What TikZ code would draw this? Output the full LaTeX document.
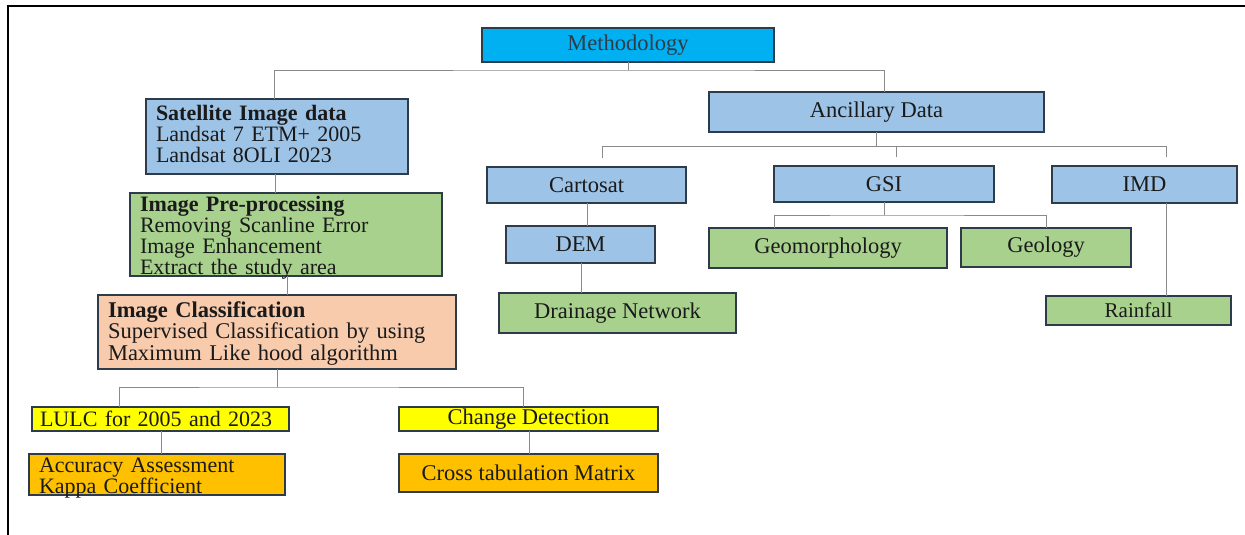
\documentclass[tikz,border=0pt]{standalone}
\usepackage{fontspec}
\setmainfont{Liberation Serif}
\begin{document}
\begin{tikzpicture}[x=1pt,y=-1pt,
  box/.style={draw=boxline, line width=1.1pt, inner xsep=10pt, inner ysep=0pt, outer sep=0pt, text=txt, anchor=north west, font=\fontsize{22.5}{20.5}\selectfont},
  multi/.style={box, align=left, font=\fontsize{22}{20.5}\selectfont},
  single/.style={box, align=center},
  conn/.style={draw=connline, line width=0.9pt},
  gapped/.style={conn, shorten >=9pt}]
\definecolor{boxline}{HTML}{2E3B4A}
\definecolor{connline}{HTML}{8A8A8A}
\definecolor{txt}{HTML}{1A1A1A}
\definecolor{cyanb}{HTML}{00B0F0}
\definecolor{blueb}{HTML}{9DC3E6}
\definecolor{greenb}{HTML}{A9D18E}
\definecolor{peachb}{HTML}{F8CBAD}
\definecolor{yellowb}{HTML}{FFFF00}
\definecolor{orangeb}{HTML}{FFC000}
\useasboundingbox (0,0) rectangle (1245,535);
\fill[white] (0,0) rectangle (1245,535);
% frame
\draw[line width=2pt, black] (8,535) -- (8,6) -- (1245,6);
% nodes
\node[single, fill=cyanb, minimum width=292, minimum height=34, text=boxline] (meth) at (482,28) {Methodology};
\node[multi, fill=blueb, minimum width=262, minimum height=75, text width=242, text height=22, text depth=53] (sat) at (146,99) {\textbf{Satellite Image data}\\Landsat 7 ETM+ 2005\\Landsat 8OLI 2023};
\node[multi, fill=greenb, minimum width=312, minimum height=83, text width=292, text height=18, text depth=65, font=\fontsize{22}{20}\selectfont] (pre) at (130,193) {\textbf{Image Pre-processing}\\Removing Scanline Error\\Image Enhancement\\Extract the study area};
\node[multi, fill=peachb, minimum width=358, minimum height=74, text width=338, text height=22, text depth=52, font=\fontsize{22.5}{21.5}\selectfont] (cls) at (98,295) {\textbf{Image Classification}\\Supervised Classification by using\\Maximum Like hood algorithm};
\node[multi, fill=yellowb, minimum width=257, minimum height=24, inner xsep=8pt, text width=241] (lulc) at (32,407) {LULC for 2005 and 2023};
\node[multi, fill=orangeb, minimum width=256, minimum height=41, text width=236, text height=18, text depth=23, font=\fontsize{22}{20}\selectfont] (acc) at (29,454) {Accuracy Assessment\\Kappa Coefficient};
\node[single, fill=yellowb, minimum width=259, minimum height=24] (chg) at (399,407) {Change Detection};
\node[single, fill=orangeb, minimum width=259, minimum height=38] (cross) at (399,454) {Cross tabulation Matrix};
\node[single, fill=blueb, minimum width=335, minimum height=40] (anc) at (709,92) {Ancillary Data};
\node[single, fill=blueb, minimum width=199, minimum height=36] (carto) at (487,167) {Cartosat};
\node[single, fill=blueb, minimum width=149, minimum height=37] (dem) at (506,226) {DEM};
\node[single, fill=greenb, minimum width=237, minimum height=40] (drain) at (499,293) {Drainage Network};
\node[single, fill=blueb, minimum width=220, minimum height=36] (gsi) at (774,166) {GSI};
\node[single, fill=greenb, minimum width=238, minimum height=40] (geom) at (709,228) {Geomorphology};
\node[single, fill=greenb, minimum width=170, minimum height=39] (geol) at (961,228) {Geology};
\node[single, fill=blueb, minimum width=185, minimum height=37] (imd) at (1052,166) {IMD};
\node[single, fill=greenb, minimum width=185, minimum height=29, font=\fontsize{21}{20}\selectfont] (rain) at (1046,296) {Rainfall};
% connectors
\coordinate (mj) at (628,70);
\draw[conn] (meth.south -| mj) -- (mj);
\draw[conn] (sat.north -| 274,0) |- (mj) -| (anc.north -| 884,0);
\draw[conn] (sat.south -| 275,0) -- (pre.north -| 275,0);
\draw[conn] (pre.south -| 287,0) -- (cls.north -| 287,0);
\coordinate (cj) at (277,387);
\draw[conn] (cls.south -| cj) -- (cj);
\draw[conn] (lulc.north -| 119,0) |- (cj) -| (chg.north -| 523,0);
\draw[conn] (lulc.south -| 161,0) -- (acc.north -| 161,0);
\draw[conn] (chg.south -| 529,0) -- (cross.north -| 529,0);
\coordinate (aj) at (876,146);
\draw[conn] (anc.south -| aj) -- (aj);
\draw[conn] (602,146) -- (1166,146);
\draw[gapped] (602,146) -- (carto.north -| 602,0);
\draw[gapped] (896,146) -- (gsi.north -| 896,0);
\draw[gapped] (1166,146) -- (imd.north -| 1166,0);
\draw[conn] (carto.south -| 587,0) -- (dem.north -| 587,0);
\draw[conn] (dem.south -| 581,0) -- (drain.north -| 581,0);
\coordinate (gj) at (884,215);
\draw[conn] (gsi.south -| gj) -- (gj);
\draw[conn] (geom.north -| 774,0) |- (gj) -| (geol.north -| 1046,0);
\draw[conn] (imd.south -| 1166,0) -- (rain.north -| 1166,0);
\end{tikzpicture}
\end{document}
